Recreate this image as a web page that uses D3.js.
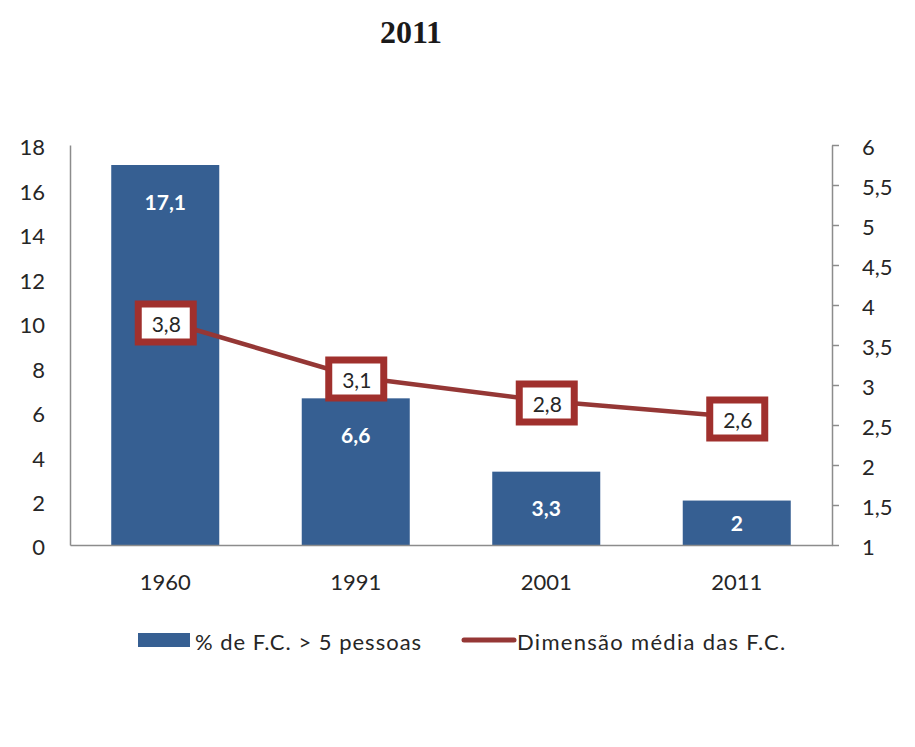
<!DOCTYPE html>
<html>
<head>
<meta charset="utf-8">
<script src="https://cdn.jsdelivr.net/npm/d3@7"></script>
<style>
  body { margin: 0; background: #fff; }
  svg { display: block; }
</style>
</head>
<body>
<svg id="chart" width="915" height="747"></svg>
<script>
const titleText = "2011";
const categories = ["1960", "1991", "2001", "2011"];
const pctValues = [17.1, 6.6, 3.3, 2];      // % de F.C. > 5 pessoas (left axis)
const sizeValues = [3.8, 3.1, 2.8, 2.6];    // Dimensão média das F.C. (right axis)
const leftTicks = [0, 2, 4, 6, 8, 10, 12, 14, 16, 18];
const rightTicks = [1, 1.5, 2, 2.5, 3, 3.5, 4, 4.5, 5, 5.5, 6];
const seriesNames = ["% de F.C. > 5 pessoas", "Dimensão média das F.C."];

const barColor = "#365F92";
const lineColor = "#953735";
const boxColor = "#A0302D";
const axisColor = "#8C8C8C";
const textColor = "#262626";
const font = "Lato, 'Open Sans', sans-serif";
const fmt = d => String(d).replace(".", ",");

const svg = d3.select("#chart");
const plotLeft = 70, plotRight = 832, plotTop = 145, plotBottom = 545;

const x = d3.scaleBand().domain(categories).range([plotLeft, plotRight])
  .paddingInner(0.433).paddingOuter(0.2165);
const yL = d3.scaleLinear().domain([0, 18]).range([plotBottom, plotTop]);
const yR = d3.scaleLinear().domain([1, 6]).range([plotBottom, plotTop]);

// Title
svg.append("text")
  .attr("x", 411).attr("y", 32)
  .attr("text-anchor", "middle").attr("dominant-baseline", "central")
  .attr("font-family", "'Liberation Serif', 'DejaVu Serif', serif")
  .attr("font-weight", "bold").attr("font-size", 32)
  .attr("fill", "#1a1a1a")
  .text(titleText);

// Bars
const bars = categories.map((c, i) => ({ c, v: pctValues[i] }));
svg.append("g").selectAll("rect").data(bars).join("rect")
  .attr("x", d => x(d.c)).attr("width", x.bandwidth())
  .attr("y", d => yL(d.v)).attr("height", d => yL(0) - yL(d.v))
  .attr("fill", barColor);

// Axes
const gL = svg.append("g").attr("transform", `translate(${plotLeft},0)`)
  .call(d3.axisLeft(yL).tickValues(leftTicks).tickSize(0).tickPadding(25));
gL.select(".domain").attr("stroke", axisColor).attr("stroke-width", 1.5);
gL.selectAll("text").attr("font-family", font).attr("font-size", 22)
  .attr("fill", textColor).attr("dy", "0.45em");

const gR = svg.append("g").attr("transform", `translate(${plotRight},0)`)
  .call(d3.axisRight(yR).tickValues(rightTicks).tickFormat(fmt)
    .tickSizeInner(7).tickSizeOuter(0).tickPadding(23));
gR.select(".domain").attr("stroke", axisColor).attr("stroke-width", 1.5);
gR.selectAll("line").attr("stroke", axisColor).attr("stroke-width", 1.5);
gR.selectAll("text").attr("font-family", font).attr("font-size", 22)
  .attr("fill", textColor).attr("dy", "0.45em");

const gB = svg.append("g").attr("transform", `translate(0,${plotBottom})`)
  .call(d3.axisBottom(x).tickSize(0).tickPadding(37));
gB.select(".domain").attr("stroke", axisColor).attr("stroke-width", 1.5);
gB.selectAll("text").attr("font-family", font).attr("font-size", 22)
  .attr("fill", textColor).attr("dy", "0.35em");

// Bar labels
svg.append("g").selectAll("text").data(bars).join("text")
  .attr("x", d => x(d.c) + x.bandwidth() / 2)
  .attr("y", d => yL(d.v) + Math.min(36, (yL(0) - yL(d.v)) / 2))
  .attr("text-anchor", "middle").attr("dominant-baseline", "central")
  .attr("font-family", font).attr("font-weight", "bold").attr("font-size", 21)
  .attr("fill", "#fff")
  .text(d => fmt(d.v));

// Line
const pts = categories.map((c, i) => ({ c, v: sizeValues[i] }));
const line = d3.line().x(d => x(d.c) + x.bandwidth() / 2).y(d => yR(d.v));
svg.append("path").datum(pts)
  .attr("d", line).attr("fill", "none")
  .attr("stroke", lineColor).attr("stroke-width", 4.5);

// Point label boxes
const lab = svg.append("g").selectAll("g").data(pts).join("g")
  .attr("transform", d => `translate(${x(d.c) + x.bandwidth() / 2},${yR(d.v) + 2})`);
lab.append("rect")
  .attr("x", -27).attr("y", -19).attr("width", 55).attr("height", 38)
  .attr("fill", "#fff").attr("stroke", boxColor).attr("stroke-width", 7);
lab.append("text")
  .attr("x", 1)
  .attr("text-anchor", "middle").attr("dominant-baseline", "central")
  .attr("font-family", font).attr("font-size", 21).attr("fill", textColor)
  .text(d => fmt(d.v));

// Legend
const lg = svg.append("g");
lg.append("rect").attr("x", 138).attr("y", 633).attr("width", 52).attr("height", 14)
  .attr("fill", barColor);
lg.append("text").attr("x", 195).attr("y", 641).attr("dominant-baseline", "central")
  .attr("font-family", font).attr("font-size", 22).attr("letter-spacing", 1.0)
  .attr("fill", textColor)
  .text(seriesNames[0]);
lg.append("line").attr("x1", 464).attr("x2", 514).attr("y1", 640).attr("y2", 640)
  .attr("stroke", lineColor).attr("stroke-width", 5).attr("stroke-linecap", "round");
lg.append("text").attr("x", 517).attr("y", 641).attr("dominant-baseline", "central")
  .attr("font-family", font).attr("font-size", 22).attr("letter-spacing", 1.3)
  .attr("fill", textColor)
  .text(seriesNames[1]);
</script>
</body>
</html>
